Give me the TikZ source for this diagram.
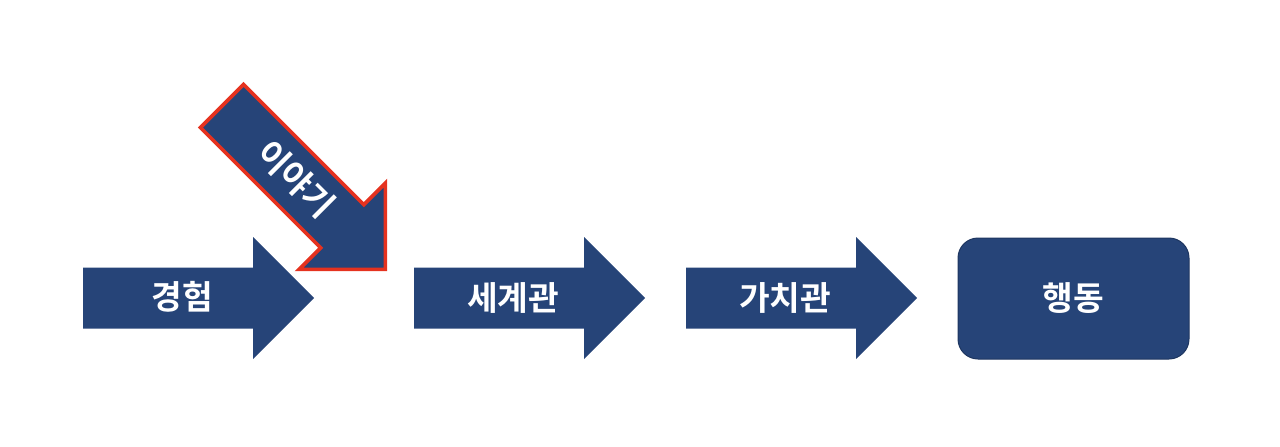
\documentclass[tikz,border=0pt]{standalone}
\usepackage{fontspec}
\newfontfamily\krfont{Noto Sans CJK KR}[BoldFont={* Bold}]
\definecolor{flowblue}{HTML}{264478}
\definecolor{storyred}{HTML}{E5321F}

\begin{document}
\begin{tikzpicture}[
    x=0.75pt, y=-0.75pt,
    label/.style={text=white, font=\krfont\bfseries\fontsize{25pt}{29pt}\selectfont, inner sep=0pt},
    result/.style={fill=flowblue, draw=flowblue!80!black, line width=0.75pt, rounded corners=15pt, minimum width=173.25pt, minimum height=90.75pt},
    pics/flowarrow/.style={code={
      \path[pic actions] (0,-30.5) -- (170,-30.5) -- (170,-61) -- (231,0) -- (170,61) -- (170,30.5) -- (0,30.5) -- cycle;
    }}
  ]
    \useasboundingbox (0,0) rectangle (1280,446);

    \pic[fill=flowblue] (exp) at (83,298) {flowarrow};
    \pic[fill=flowblue] (world) at (414,298) {flowarrow};
    \pic[fill=flowblue] (value) at (686,298) {flowarrow};
    \pic[fill=flowblue, draw=storyred, line width=2.75pt, rotate=-45] (story) at (222,106) {flowarrow};

    \node[result] (act) at (1073.5,298.5) {};

    \node[label] (exptext) at (182,297) {경험};
    \node[label] (worldtext) at (513,298) {세계관};
    \node[label] (valuetext) at (785,298) {가치관};
    \node[label, rotate=-45] (storytext) at (296,179) {이야기};
    \node[label] (acttext) at (act.center) {행동};
  \end{tikzpicture}
\end{document}
